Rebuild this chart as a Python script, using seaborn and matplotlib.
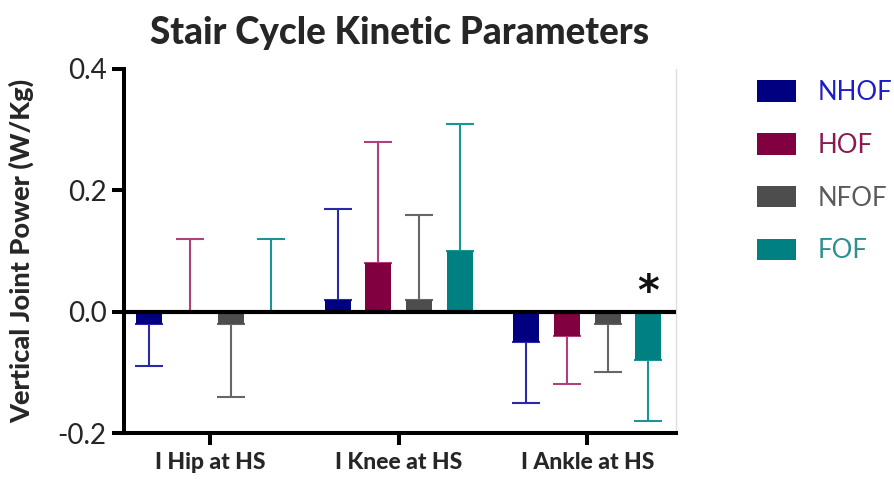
import numpy as np
import pandas as pd
import matplotlib
matplotlib.use("Agg")
import matplotlib.pyplot as plt
from matplotlib.patches import Patch
import seaborn as sns

# Stair cycle kinetic parameters: mean vertical joint power and SD per group
joints = ["I Hip at HS", "I Knee at HS", "I Ankle at HS"]
groups = ["NHOF", "HOF", "NFOF", "FOF"]
nhof_mean = [-0.02, 0.02, -0.05]
hof_mean = [0.00, 0.08, -0.04]
nfof_mean = [-0.02, 0.02, -0.02]
fof_mean = [0.00, 0.10, -0.08]
nhof_sd = [0.07, 0.15, 0.10]
hof_sd = [0.12, 0.20, 0.08]
nfof_sd = [0.12, 0.14, 0.08]
fof_sd = [0.12, 0.21, 0.10]

bar_colors = ["#000080", "#800040", "#4d4d4d", "#008080"]
err_colors = ["#2a2aa8", "#b0407a", "#666666", "#1a9494"]
text_colors = ["#1c1cc8", "#8a1a52", "#5a5a5a", "#2a9090"]

means = [nhof_mean, hof_mean, nfof_mean, fof_mean]
sds = [nhof_sd, hof_sd, nfof_sd, fof_sd]
df = pd.DataFrame({
    "joint": [j for _ in groups for j in joints],
    "group": [g for g in groups for _ in joints],
    "power": [v for m in means for v in m],
})

sns.set_theme(style="white")
plt.rcParams["font.family"] = ["Lato", "DejaVu Sans"]

fig = plt.figure(figsize=(8.94, 4.88), dpi=100)
ax = fig.add_axes([124 / 894, 1 - 433 / 488, 552 / 894, 364 / 488])

sns.barplot(data=df, x="joint", y="power", hue="group", order=joints,
            hue_order=groups, palette=bar_colors, width=0.862, gap=0.36,
            errorbar=None, saturation=1, linewidth=0, legend=False, ax=ax)
bar_containers = list(ax.containers)
for cont in bar_containers:
    for bar in cont:
        bar.set_zorder(3)

# one-sided error bars pointing away from zero, drawn behind the bars
for k, cont in enumerate(bar_containers):
    for j, bar in enumerate(cont):
        v = means[k][j]
        e = sds[k][j]
        xc = bar.get_x() + bar.get_width() / 2
        if v < 0:
            yerr = [[e], [0]]
        else:
            yerr = [[0], [e]]
        ax.errorbar(xc, v, yerr=yerr, fmt="none", ecolor=err_colors[k],
                    elinewidth=1.5, capsize=10, capthick=1.5, zorder=2)

ax.axhline(0, color="black", lw=3.0, zorder=5)

# significance marker
fof_bar = bar_containers[3][2]
ax.text(fof_bar.get_x() + fof_bar.get_width() / 2, -0.004, "*",
        ha="center", va="bottom", fontsize=30, fontweight="bold", color="#111111",
        family=["DejaVu Sans"])

ax.set_ylim(-0.2, 0.4)
ax.set_xlim(-0.457, 2.47)
ax.set_yticks([-0.2, 0.0, 0.2, 0.4])
ax.set_yticklabels(["-0.2", "0.0", "0.2", "0.4"])
ax.set_xlabel("")
ax.set_ylabel("Vertical Joint Power (W/Kg)", fontsize=19.5, fontweight=900)
ax.yaxis.set_label_coords(-0.163, 0.5)
ax.set_title("Stair Cycle Kinetic Parameters", fontsize=26.5, fontweight=900, pad=18)

for side in ["left", "bottom"]:
    ax.spines[side].set_linewidth(2.9)
    ax.spines[side].set_color("black")
ax.spines["top"].set_visible(False)
ax.spines["right"].set_color("#dddddd")
ax.spines["right"].set_linewidth(1.0)

ax.tick_params(axis="y", which="both", left=True, length=8.6, width=2.9,
               pad=4, labelsize=20, color="black")
ax.tick_params(axis="x", which="both", bottom=True, length=8.6, width=2.9,
               pad=5, labelsize=16.5, color="black")
for lab in ax.get_xticklabels():
    lab.set_fontweight(900)

handles = [Patch(facecolor=c, edgecolor="none") for c in bar_colors]
leg = fig.legend(handles, groups, loc="upper left", bbox_to_anchor=(757 / 894, 1 - 80 / 488),
                 frameon=False, fontsize=18.5, handlelength=1.52, handleheight=0.9,
                 labelspacing=1.08, handletextpad=0.85, borderpad=0, borderaxespad=0)
for t, c in zip(leg.get_texts(), text_colors):
    t.set_color(c)

fig.savefig("out.png", dpi=100)
